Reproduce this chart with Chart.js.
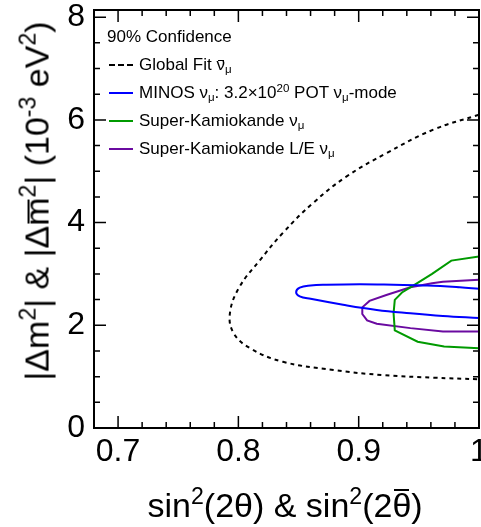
<!DOCTYPE html>
<html>
<head>
<meta charset="utf-8">
<script src="https://cdn.jsdelivr.net/npm/chart.js@4.4.1/dist/chart.umd.min.js"></script>
<style>
  body { margin: 0; background: #fff; }
  #wrap { position: relative; width: 481px; height: 527px; overflow: hidden;
          font-family: "Liberation Sans", Arial, sans-serif; color: #000; }
  #chart { position: absolute; left: 0; top: 0; }
  .ttl { position: absolute; white-space: nowrap; font-size: 34px; line-height: 34px; }
  .row { position: absolute; left: 0; white-space: nowrap; font-size: 17px; line-height: 20px; height: 20px; }
  .row .txt { position: absolute; top: 0; }
  .row .sw { position: absolute; top: 9px; width: 24px; height: 0; border-top: 2px solid; }
  sub, sup { font-size: 0.68em; line-height: 0; }
  sub { vertical-align: -0.3em; }
  sup { vertical-align: 0.55em; }
  .ob { position: relative; }
  .ob::after { content: ""; position: absolute; left: 0.06em; right: 0.06em; top: var(--bar, 0.3em);
               border-top: 0.06em solid currentColor; }
</style>
</head>
<body>
<div id="wrap">
  <canvas id="chart" width="481" height="527"></canvas>
  <div id="legend"></div>
  <div class="ttl" id="xTitle">sin<sup>2</sup>(2θ) &amp; sin<sup>2</sup>(2<span class="ob" style="--bar:0.08em">θ</span>)</div>
  <div class="ttl" id="yTitle">|Δm<sup>2</sup>| &amp; |Δ<span class="ob" style="--bar:0.28em">m</span><sup>2</sup>| (10<sup>-3</sup> eV<sup>2</sup>)</div>
</div>
<script>
/*====================================
        Oscillation contours (90% C.L.)
====================================*/

// tick labels
const xMajorTicks = [0.7, 0.8, 0.9, 1.0];
const xTickLabels = ["0.7", "0.8", "0.9", "1"];
const yMajorTicks = [0, 2, 4, 6, 8];
const yTickLabels = ["0", "2", "4", "6", "8"];

// global fit anti-nu_mu (dashed)
const globalFitX = [1.000, 0.962, 0.923, 0.890, 0.862, 0.837, 0.818, 0.801, 0.793, 0.796, 0.810, 0.837, 0.879, 0.920, 0.962, 1.000];
const globalFitY = [6.10, 5.81, 5.35, 4.90, 4.38, 3.80, 3.27, 2.75, 2.24, 1.85, 1.55, 1.29, 1.13, 1.03, 0.98, 0.95];

// MINOS nu_mu 3.2e20 POT
const minosX = [1.000, 0.984, 0.957, 0.929, 0.901, 0.873, 0.860, 0.851, 0.848, 0.851, 0.860, 0.887, 0.915, 0.943, 0.970, 1.000];
const minosY = [2.71, 2.74, 2.775, 2.79, 2.80, 2.79, 2.775, 2.735, 2.645, 2.565, 2.515, 2.40, 2.30, 2.235, 2.183, 2.14];

// Super-Kamiokande nu_mu
const skX = [1.000, 0.977, 0.961, 0.944, 0.936, 0.930, 0.929, 0.930, 0.949, 0.971, 1.000];
const skY = [3.34, 3.26, 3.00, 2.755, 2.64, 2.495, 2.235, 1.90, 1.68, 1.585, 1.555];

// Super-Kamiokande L/E nu_mu
const skleX = [1.000, 0.970, 0.961, 0.943, 0.923, 0.909, 0.903, 0.903, 0.907, 0.915, 0.943, 0.970, 1.000];
const skleY = [2.885, 2.846, 2.82, 2.74, 2.59, 2.475, 2.35, 2.22, 2.095, 2.03, 1.945, 1.88, 1.88];

const legendHeader = "90% Confidence";
const legendLabels = [
    "Global Fit <span class=\"ob\" style=\"--bar:0.28em\">ν</span><sub>μ</sub>",
    "MINOS ν<sub>μ</sub>: 3.2×10<sup>20</sup> POT ν<sub>μ</sub>-mode",
    "Super-Kamiokande ν<sub>μ</sub>",
    "Super-Kamiokande L/E ν<sub>μ</sub>"
];

const FONT = "'Liberation Sans', Arial, sans-serif";

function toPoints(xs, ys) {
    return xs.map((x, i) => ({ x: x, y: ys[i] }));
}

function labelFor(value, majors, labels) {
    const i = majors.findIndex(m => Math.abs(m - value) < 1e-6);
    return i >= 0 ? labels[i] : "";
}

function isMajor(value, majors) {
    return majors.some(m => Math.abs(m - value) < 1e-6);
}

// ROOT-style frame with inward ticks on all four sides
const innerTicks = {
    id: "innerTicks",
    afterDraw(chart) {
        const { ctx, chartArea: a, scales: { x, y } } = chart;
        ctx.save();
        ctx.strokeStyle = "#000";
        ctx.lineWidth = 1.5;
        ctx.beginPath();
        x.ticks.forEach(t => {
            const px = x.getPixelForValue(t.value);
            const len = isMajor(t.value, xMajorTicks) ? 12 : 6;
            ctx.moveTo(px, a.bottom); ctx.lineTo(px, a.bottom - len);
            ctx.moveTo(px, a.top); ctx.lineTo(px, a.top + len);
        });
        y.ticks.forEach(t => {
            const py = y.getPixelForValue(t.value);
            const len = isMajor(t.value, yMajorTicks) ? 12 : 6;
            ctx.moveTo(a.left, py); ctx.lineTo(a.left + len, py);
            ctx.moveTo(a.right, py); ctx.lineTo(a.right - len, py);
        });
        ctx.stroke();
        ctx.lineWidth = 2;
        ctx.strokeRect(a.left, a.top, a.right - a.left, a.bottom - a.top);
        ctx.restore();
    }
};

const datasets = [
    { data: toPoints(globalFitX, globalFitY), borderColor: "#000000", borderDash: [4, 4], tension: 0.4 },
    { data: toPoints(minosX, minosY), borderColor: "#0000ff", tension: 0.4 },
    { data: toPoints(skX, skY), borderColor: "#009a00", tension: 0 },
    { data: toPoints(skleX, skleY), borderColor: "#6a0aa0", tension: 0 }
].map(d => Object.assign({
    showLine: true, fill: false, pointRadius: 0, borderWidth: 2
}, d));

const chart = new Chart(document.getElementById("chart"), {
    type: "scatter",
    data: { datasets: datasets },
    plugins: [innerTicks],
    options: {
        responsive: false,
        animation: false,
        layout: { autoPadding: false, padding: { top: 10, right: 2, left: 0, bottom: 0 } },
        plugins: { legend: { display: false }, tooltip: { enabled: false } },
        scales: {
            x: {
                type: "linear",
                min: 0.68,
                max: 1.0,
                afterFit: s => { s.height = 99; s.paddingLeft = 0; s.paddingRight = 0; },
                grid: { drawOnChartArea: false, drawTicks: false },
                border: { display: false },
                ticks: {
                    stepSize: 0.02, autoSkip: false, maxRotation: 0, includeBounds: false,
                    padding: 5, color: "#000", font: { family: FONT, size: 32 },
                    callback: v => labelFor(v, xMajorTicks, xTickLabels)
                }
            },
            y: {
                type: "linear",
                min: 0,
                max: 8.14,
                afterFit: s => { s.width = 94; s.paddingTop = 0; s.paddingBottom = 0; },
                grid: { drawOnChartArea: false, drawTicks: false },
                border: { display: false },
                ticks: {
                    stepSize: 0.5, autoSkip: false, includeBounds: false,
                    padding: 9, color: "#000", font: { family: FONT, size: 32 },
                    callback: v => labelFor(v, yMajorTicks, yTickLabels)
                }
            }
        }
    }
});

// HTML legend (needs sub/superscripts)
function buildLegend() {
    const box = document.getElementById("legend");
    let html = "<div class=\"row\" style=\"top:27px\"><span class=\"txt\" style=\"left:107px\">" + legendHeader + "</span></div>";
    legendLabels.forEach((label, i) => {
        const ds = chart.data.datasets[i];
        const style = ds.borderDash && ds.borderDash.length ? "dashed" : "solid";
        html += "<div class=\"row\" style=\"top:" + (55 + i * 28) + "px\">" +
            "<span class=\"sw\" style=\"left:109px;border-top-style:" + style + ";border-color:" + ds.borderColor + "\"></span>" +
            "<span class=\"txt\" style=\"left:139px\">" + label + "</span></div>";
    });
    box.innerHTML = html;
}
buildLegend();

// axis titles
const xt = document.getElementById("xTitle");
xt.style.left = (285 - xt.offsetWidth / 2) + "px";
xt.style.top = "488px";
const yt = document.getElementById("yTitle");
yt.style.left = (36 - yt.offsetWidth / 2) + "px";
yt.style.top = (201 - 17) + "px";
yt.style.transform = "rotate(-90deg)";
</script>
</body>
</html>
